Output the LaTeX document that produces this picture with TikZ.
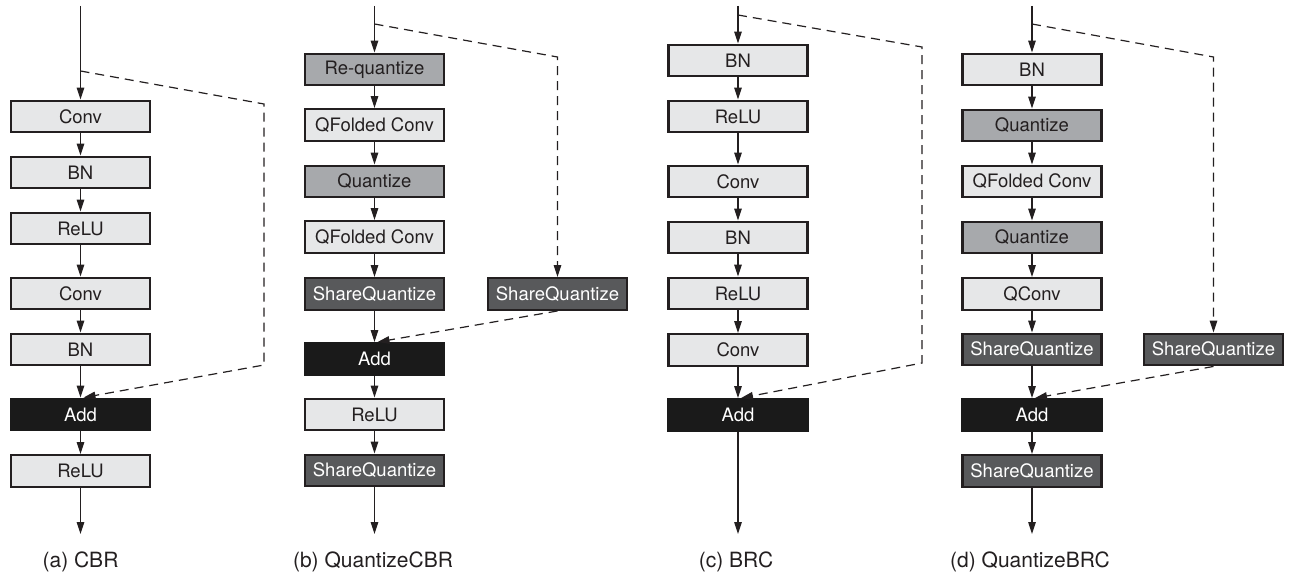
\documentclass[tikz,border=0pt]{standalone}
\usepackage{fontspec}
\setmainfont{TeX Gyre Heros}
\usetikzlibrary{arrows.meta}
\definecolor{boxline}{HTML}{231F20}
\definecolor{lightfill}{HTML}{E6E7E8}
\definecolor{midfill}{HTML}{A7A9AC}
\definecolor{darkfill}{HTML}{58595B}
\definecolor{addfill}{HTML}{1A1A1A}
\tikzset{
  layer/.style={draw=boxline, line width=2.4pt, minimum width=139pt, minimum height=31.5pt,
    inner sep=0pt, font=\fontsize{18.5}{20}\selectfont, text=boxline},
  plain/.style={layer, fill=lightfill},
  quant/.style={layer, fill=midfill},
  share/.style={layer, fill=darkfill, text=white},
  addbox/.style={layer, draw=addfill, fill=addfill, text=white},
  flow/.style={draw=boxline, line width=1.2pt, -{Triangle[length=12pt,width=7.5pt]}},
  flowline/.style={draw=boxline, line width=1.2pt},
  skip/.style={draw=boxline, line width=1.2pt, dash pattern=on 9pt off 6pt},
  skiparrow/.style={skip, -{Triangle[length=12pt,width=7.5pt]}},
  caption/.style={font=\fontsize{21}{24}\selectfont, text=boxline}
}
\begin{document}
\begin{tikzpicture}[x=1pt, y=-1pt]
\useasboundingbox (0,0) rectangle (1290,578);

% ---------- (a) CBR ----------
\coordinate (ain) at (80.5,6);
\coordinate (asplit) at (80.5,71);
\coordinate (ac1) at (264,104);
\coordinate (ac2) at (264,365);
\node[plain] (a1) at (80.5,116.5) {Conv};
\node[plain] (a2) at (80.5,172.5) {BN};
\node[plain] (a3) at (80.5,228.5) {ReLU};
\node[plain] (a4) at (80.5,293.5) {Conv};
\node[plain] (a5) at (80.5,349.5) {BN};
\node[addbox] (a6) at (80.5,414.5) {Add};
\node[plain] (a7) at (80.5,471) {ReLU};
\coordinate (aout) at (80.5,534);
\node[caption] (acap) at (80.5,562) {(a) CBR};
\draw[flow] (ain) -- (a1);
\draw[flow] (a1) -- (a2);
\draw[flow] (a2) -- (a3);
\draw[flow] (a3) -- (a4);
\draw[flow] (a4) -- (a5);
\draw[flow] (a5) -- (a6);
\draw[flow] (a6) -- (a7);
\draw[flow] (a7) -- (aout);
\draw[skiparrow] (asplit) -- (ac1) -- (ac2) -- ([xshift=3pt]a6.north);

% ---------- (b) QuantizeCBR ----------
\coordinate (bin) at (374.5,6);
\coordinate (bsplit) at (374.5,24);
\coordinate (bc1) at (557.5,57);
\node[quant] (b1) at (374.5,69.5) {Re-quantize};
\node[plain] (b2) at (374.5,125) {QFolded Conv};
\node[quant] (b3) at (374.5,181.5) {Quantize};
\node[plain] (b4) at (374.5,237) {QFolded Conv};
\node[share] (b5) at (374.5,294) {ShareQuantize};
\node[share] (bs) at (557.5,294) {ShareQuantize};
\node[addbox] (b6) at (374.5,359) {Add};
\node[plain] (b7) at (374.5,414.5) {ReLU};
\node[share] (b8) at (374.5,470.5) {ShareQuantize};
\coordinate (bout) at (374.5,534);
\node[caption] (bcap) at (373,562) {(b) QuantizeCBR};
\draw[flow] (bin) -- (b1);
\draw[flow] (b1) -- (b2);
\draw[flow] (b2) -- (b3);
\draw[flow] (b3) -- (b4);
\draw[flow] (b4) -- (b5);
\draw[flow] (b5) -- (b6);
\draw[flow] (b6) -- (b7);
\draw[flow] (b7) -- (b8);
\draw[flow] (b8) -- (bout);
\draw[skiparrow] (bsplit) -- (bc1) -- (bs.north);
\draw[skiparrow] (bs.south) -- ([xshift=3pt]b6.north);

% ---------- (c) BRC ----------
\coordinate (cin) at (738,6);
\coordinate (csplit) at (738,15);
\coordinate (cc1) at (922,47);
\coordinate (cc2) at (922,363);
\node[plain] (c1) at (738,60.5) {BN};
\node[plain] (c2) at (738,116.5) {ReLU};
\node[plain] (c3) at (738,181.5) {Conv};
\node[plain] (c4) at (738,237.5) {BN};
\node[plain] (c5) at (738,293.5) {ReLU};
\node[plain] (c6) at (738,350) {Conv};
\node[addbox] (c7) at (738,415) {Add};
\coordinate (cout) at (738,534);
\node[caption] (ccap) at (736,562) {(c) BRC};
\draw[flow] (cin) -- (c1);
\draw[flow] (c1) -- (c2);
\draw[flow] (c2) -- (c3);
\draw[flow] (c3) -- (c4);
\draw[flow] (c4) -- (c5);
\draw[flow] (c5) -- (c6);
\draw[flow] (c6) -- (c7);
\draw[flow] (c7) -- (cout);
\draw[skiparrow] (csplit) -- (cc1) -- (cc2) -- ([xshift=3pt]c7.north);

% ---------- (d) QuantizeBRC ----------
\coordinate (din) at (1032,6);
\coordinate (dsplit) at (1032,24);
\coordinate (dc1) at (1213.5,57);
\node[plain] (d1) at (1032,69.5) {BN};
\node[quant] (d2) at (1032,125.5) {Quantize};
\node[plain] (d3) at (1032,181.5) {QFolded Conv};
\node[quant] (d4) at (1032,237.5) {Quantize};
\node[plain] (d5) at (1032,294) {QConv};
\node[share] (d6) at (1032,349.5) {ShareQuantize};
\node[share] (ds) at (1213.5,349.5) {ShareQuantize};
\node[addbox] (d7) at (1032,415) {Add};
\node[share] (d8) at (1032,471) {ShareQuantize};
\coordinate (dout) at (1032,534);
\node[caption] (dcap) at (1030,562) {(d) QuantizeBRC};
\draw[flow] (din) -- (d1);
\draw[flow] (d1) -- (d2);
\draw[flow] (d2) -- (d3);
\draw[flow] (d3) -- (d4);
\draw[flow] (d4) -- (d5);
\draw[flow] (d5) -- (d6);
\draw[flow] (d6) -- (d7);
\draw[flow] (d7) -- (d8);
\draw[flow] (d8) -- (dout);
\draw[skiparrow] (dsplit) -- (dc1) -- (ds.north);
\draw[skiparrow] (ds.south) -- ([xshift=3pt]d7.north);
\end{tikzpicture}
\end{document}
